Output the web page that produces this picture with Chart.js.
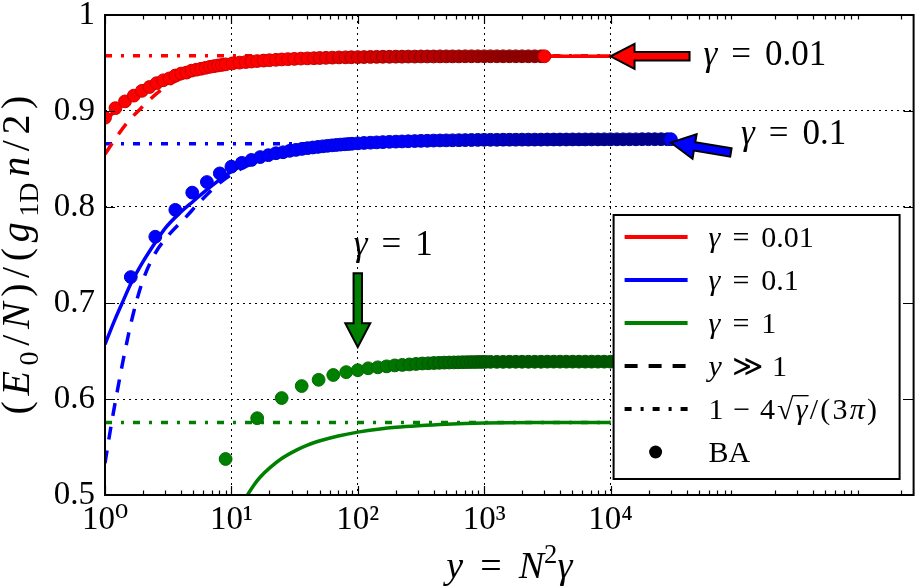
<!DOCTYPE html>
<html><head><meta charset="utf-8">
<script src="https://cdn.jsdelivr.net/npm/chart.js@4/dist/chart.umd.min.js"></script>
<style>
html,body{margin:0;padding:0;background:#fff;}
canvas{display:block;}
.fp{position:absolute;left:-5000px;top:0;font-size:33px;font-family:"Liberation Serif","Times New Roman",serif;}
</style>
</head><body>
<span class="fp" id="fp1">0123456789 γπ BA</span><span class="fp" id="fp2" style="font-style:italic">yNgnEγπ</span>
<canvas id="c" width="921" height="588"></canvas>
<script>
// ---------------- data ----------------
const xTickValues = [1, 10, 100, 1000, 10000];
const xTickLabels = ['10\u2070', '10\u00b9', '10\u00b2', '10\u00b3', '10\u2074'];
const yTickValues = [0.5, 0.6, 0.7, 0.8, 0.9, 1.0];
const yTickLabels = ['0.5', '0.6', '0.7', '0.8', '0.9', '1'];

const redBA_x = [1,1.21,1.44,1.69,1.96,2.25,2.56,2.89,3.24,3.61,4,4.41,4.84,5.29,5.76,6.25,6.76,7.29,7.84,8.41,9,
  10.2,11.6,13,14.4,16,18,20,22.5,25,28,31.5,35.5,40,45,50,56,63,71,80,89,
  100,112,126,141,158,178,200,224,251,282,316,355,398,447,501,562,631,708,794,891,
  1000,1122,1259,1413,1585,1778,1995,2239,2512,2818,3003];
const redBA_y = [0.893,0.903,0.910,0.916,0.921,0.925,0.929,0.932,0.934,0.937,0.939,0.940,0.942,0.943,0.944,0.945,0.946,0.9467,0.9474,0.948,0.9486,
  0.9496,0.9504,0.951,0.9515,0.952,0.9525,0.9529,0.9533,0.9537,0.954,0.9543,0.9546,0.9548,0.955,0.9552,0.9554,0.9556,0.9558,0.9559,0.956,
  0.9561,0.9562,0.9563,0.9564,0.9565,0.9565,0.9566,0.9566,0.9567,0.9567,0.9568,0.9568,0.9568,0.9569,0.9569,0.9569,0.9569,0.957,0.957,0.957,
  0.957,0.957,0.957,0.957,0.957,0.957,0.957,0.957,0.957,0.957,0.957];

const blueBA_x = [1.6,2.5,3.6,4.9,6.4,8.1,10,12.1,14.4,16.9,19.6,22.5,25.6,28.9,32.4,36.1,40,44.1,48.4,52.9,57.6,62.5,67.6,72.9,78.4,84.1,90,
  100,112,126,141,158,178,200,224,251,282,316,355,398,447,501,562,631,708,794,891,
  1000,1122,1259,1413,1585,1778,1995,2239,2512,2818,3162,3548,3981,4467,5012,5623,6310,7079,7943,8913,
  10000,11220,12589,14125,15849,17783,19953,22387,25119,28184,30030];
const blueBA_y = [0.727,0.769,0.797,0.815,0.826,0.835,0.842,0.846,0.849,0.852,0.854,0.856,0.857,0.8585,0.8595,0.8605,0.8613,0.862,0.8626,0.8632,0.8637,0.8642,0.8646,0.865,0.8653,0.8656,0.8659,
  0.8663,0.8667,0.867,0.8673,0.8676,0.8679,0.8681,0.8683,0.8685,0.8687,0.8689,0.869,0.8692,0.8693,0.8694,0.8695,0.8696,0.8697,0.8698,0.8699,
  0.87,0.87,0.87,0.8701,0.8701,0.8701,0.8702,0.8702,0.8702,0.8702,0.8703,0.8703,0.8703,0.8703,0.8704,0.8704,0.8704,0.8704,0.8704,0.8705,
  0.8705,0.8705,0.8705,0.8705,0.8705,0.8706,0.8706,0.8706,0.8706,0.8706,0.8706];

const greenBA_x = [9,16,25,36,49,64,81,100,121,144,169,196,225,256,289,324,361,400,441,484,529,576,625,676,729,784,841,900,961,1024,
  1122,1259,1413,1585,1778,1995,2239,2512,2818,3162,3548,3981,4467,5012,5623,6310,7079,7943,8913,10000,11220,12589];
const greenBA_y = [0.5375,0.580,0.601,0.6135,0.620,0.625,0.628,0.630,0.632,0.633,0.634,0.635,0.6355,0.636,0.6365,0.637,0.6372,0.6375,0.6377,0.6379,0.638,0.6381,0.6382,0.6383,0.6384,0.6385,0.6385,0.6386,0.6386,0.6387,
  0.6387,0.6387,0.6387,0.6388,0.6388,0.6388,0.6388,0.6388,0.6388,0.6389,0.6389,0.6389,0.6389,0.6389,0.6389,0.6389,0.6389,0.6389,0.6389,0.6389,0.6389,0.6389];

const redLine_x = [1,1.5,2,3,5,10,30,100,1000,10000];
const redLine_y = [0.890,0.911,0.921,0.932,0.942,0.9495,0.954,0.956,0.957,0.957];
const blueLine_x = [1,1.2,1.4,1.6,2,2.5,3,4,5,6,8,10,15,20,30,50,100,300,1000,10000];
const blueLine_y = [0.657,0.683,0.703,0.720,0.743,0.763,0.778,0.795,0.806,0.815,0.828,0.837,0.848,0.854,0.859,0.8625,0.8655,0.8675,0.8685,0.869];
const greenLine_x = [13,13.4,15,17,20,25,33,40,52,70,100,150,200,300,500,1000,3000,10000];
const greenLine_y = [0.497,0.5,0.510,0.519,0.528,0.538,0.547,0.552,0.557,0.5615,0.5655,0.5688,0.5705,0.5722,0.5738,0.575,0.5755,0.5756];

const redDash_x = [1,1.25,1.5,2,2.5,3,4,6,10,30,100,1000,10000];
const redDash_y = [0.855,0.874,0.888,0.905,0.917,0.925,0.934,0.943,0.950,0.955,0.9566,0.957,0.957];
const blueDash_x = [1,1.12,1.25,1.4,1.66,2,2.5,3.2,4.4,5.5,7.6,10,15,20,30,50,100,1000,10000];
const blueDash_y = [0.533,0.573,0.608,0.642,0.687,0.724,0.752,0.771,0.790,0.804,0.822,0.834,0.846,0.852,0.857,0.861,0.864,0.8657,0.8658];

const levelRange = [1, 10000];
const levelRed = [0.9576, 0.9576];
const levelBlue = [0.8658, 0.8658];
const levelGreen = [0.5756, 0.5756];

const arrowX = [10000, 30030, 100];
const arrowY = [0.957, 0.8672, 0.654];

// ---------------- helpers ----------------
const SERIF = '"Liberation Serif", "Times New Roman", Times, "DejaVu Serif", serif';
const RED = '#ff0000', BLUE = '#0000ff', GREEN = '#008000';
function pts(xs, ys) { return xs.map((x, i) => ({ x: x, y: ys[i] })); }
function hex2rgb(h) { return [1, 3, 5].map(i => parseInt(h.substr(i, 2), 16)); }
function mix(a, b, t) {
  const A = hex2rgb(a), B = hex2rgb(b);
  return 'rgb(' + A.map((v, i) => Math.round(v + (B[i] - v) * t)).join(',') + ')';
}
function shadeFn(base, dark, lo, hi, extra) {
  return function (ctx) {
    const r = ctx.raw;
    if (!r || ctx.dataIndex === ctx.dataset.data.length - 1) return extra ? mix(base, dark, extra) : base;
    let t = (Math.log10(r.x) - lo) / (hi - lo);
    t = Math.max(0, Math.min(1, t));
    return mix(base, dark, Math.min(1, t + (extra || 0)));
  };
}
function dots(xs, ys, base, dark, lo, hi) {
  return {
    data: pts(xs, ys), showLine: false, order: 0, clip: 0,
    pointRadius: 6.4, pointBorderWidth: 1,
    pointBackgroundColor: shadeFn(base, dark, lo, hi, 0),
    pointBorderColor: shadeFn(base, dark, lo, hi, 0.45),
    pointHoverRadius: 6.4
  };
}
function line(xs, ys, color, dash, order) {
  return {
    data: pts(xs, ys), showLine: true, order: order, clip: 0,
    borderColor: color, borderWidth: 3.5, borderDash: dash, borderCapStyle: 'butt',
    pointRadius: 0, pointHoverRadius: 0, cubicInterpolationMode: 'monotone', fill: false
  };
}

function drawRich(ctx, parts, x, yBase, size, align, track) {
  track = track || 0;
  const items = []; let w = 0;
  parts.forEach((p, k) => {
    if (p.gap !== undefined) { items.push({ gap: p.gap * size }); w += p.gap * size; return; }
    const s = (p.sub || p.sup) ? size * 0.7 : size;
    const font = (p.i ? 'italic ' : '') + s + 'px ' + SERIF;
    ctx.font = font;
    const m = ctx.measureText(p.t);
    const extra = k < parts.length - 1 ? track : 0;
    items.push({ p: p, font: font, w: m.width, asc: m.actualBoundingBoxAscent, extra: extra });
    w += m.width + extra;
  });
  let cx = align === 'center' ? x - w / 2 : (align === 'right' ? x - w : x);
  ctx.textAlign = 'left'; ctx.textBaseline = 'alphabetic'; ctx.fillStyle = '#000';
  let radTop = null;
  for (const it of items) {
    if (it.gap !== undefined) { cx += it.gap; continue; }
    ctx.font = it.font;
    const dy = it.p.sup ? -0.4 * size : (it.p.sub ? 0.22 * size : 0);
    ctx.fillText(it.p.t, cx, yBase + dy);
    if (it.p.t === '\u221a') radTop = yBase - it.asc;
    if (it.p.over && radTop !== null) {
      ctx.save(); ctx.strokeStyle = '#000'; ctx.lineWidth = size * 0.045;
      ctx.beginPath(); ctx.moveTo(cx - 3, radTop + ctx.lineWidth / 2); ctx.lineTo(cx + it.w + 1, radTop + ctx.lineWidth / 2); ctx.stroke();
      ctx.restore();
    }
    cx += it.w + it.extra;
  }
  return w;
}

function arrowPath(ctx, tip, tail, headLen, headHalf, shaftHalf) {
  const dx = tip.x - tail.x, dy = tip.y - tail.y, L = Math.hypot(dx, dy);
  const ux = dx / L, uy = dy / L, nx = -uy, ny = ux;
  const nk = { x: tip.x - ux * headLen, y: tip.y - uy * headLen };
  const P = [
    [tail.x + nx * shaftHalf, tail.y + ny * shaftHalf],
    [nk.x + nx * shaftHalf, nk.y + ny * shaftHalf],
    [nk.x + nx * headHalf, nk.y + ny * headHalf],
    [tip.x, tip.y],
    [nk.x - nx * headHalf, nk.y - ny * headHalf],
    [nk.x - nx * shaftHalf, nk.y - ny * shaftHalf],
    [tail.x - nx * shaftHalf, tail.y - ny * shaftHalf]
  ];
  ctx.beginPath(); ctx.moveTo(P[0][0], P[0][1]);
  for (let i = 1; i < P.length; i++) ctx.lineTo(P[i][0], P[i][1]);
  ctx.closePath();
}

const eq = (v) => [{ t: '\u03b3', i: true }, { gap: 0.4 }, { t: '=' }, { gap: 0.4 }, { t: v }];

const decor = {
  id: 'decor',
  afterDatasetsDraw(chart) {
    const ctx = chart.ctx, a = chart.chartArea, xs = chart.scales.x, ys = chart.scales.y;
    ctx.save();
    ctx.strokeStyle = '#000'; ctx.lineWidth = 1.2;
    ctx.beginPath();
    for (let k = 0; k <= 6; k++) {
      for (let m = 1; m <= 9; m++) {
        const v = m * Math.pow(10, k);
        if (v > xs.max) break;
        if (m === 1 && k > 4) continue;
        const px = Math.round(xs.getPixelForValue(v)) + 0.5;
        const len = m === 1 ? 9 : 4.5;
        ctx.moveTo(px, a.bottom); ctx.lineTo(px, a.bottom - len);
        ctx.moveTo(px, a.top); ctx.lineTo(px, a.top + len);
      }
    }
    yTickValues.forEach(v => {
      const py = Math.round(ys.getPixelForValue(v)) + 0.5;
      ctx.moveTo(a.left, py); ctx.lineTo(a.left + 10, py);
      ctx.moveTo(a.right, py); ctx.lineTo(a.right - 10, py);
    });
    ctx.stroke();
    ctx.lineWidth = 2;
    ctx.strokeRect(a.left, a.top, a.right - a.left, a.bottom - a.top);

    const tips = arrowX.map((v, i) => ({ x: xs.getPixelForValue(v), y: ys.getPixelForValue(arrowY[i]) }));
    const tails = [
      { x: tips[0].x + 79, y: tips[0].y },
      { x: tips[1].x + 60, y: tips[1].y + 10 },
      { x: tips[2].x, y: tips[2].y - 74 }
    ];
    const fills = [RED, BLUE, GREEN];
    ctx.lineJoin = 'miter'; ctx.lineWidth = 2; ctx.strokeStyle = '#000';
    for (let i = 0; i < 3; i++) {
      arrowPath(ctx, tips[i], tails[i], 24, 12.5, 4.2);
      ctx.fillStyle = fills[i]; ctx.fill(); ctx.stroke();
    }
    drawRich(ctx, eq('0.01'), tails[0].x + 14, tails[0].y + 9, 35, 'left');
    drawRich(ctx, eq('0.1'), tails[1].x + 10, tails[1].y - 8, 35, 'left');
    drawRich(ctx, eq('1'), tails[2].x - 4, tails[2].y - 18, 35, 'left');

    const W = 286, H = 264;
    const L = a.right - 14 - W, T = a.bottom - 16 - H;
    ctx.fillStyle = '#fff'; ctx.fillRect(L, T, W, H);
    ctx.lineWidth = 2; ctx.strokeStyle = '#000'; ctx.strokeRect(L, T, W, H);
    const entries = [
      { c: RED, dash: [], txt: eq('0.01'), tr: 0 },
      { c: BLUE, dash: [], txt: eq('0.1'), tr: 0 },
      { c: GREEN, dash: [], txt: eq('1'), tr: 0 },
      { c: '#000', dash: [13, 11], txt: [{ t: 'y', i: true }, { gap: 0.32 }, { t: '\u226b' }, { gap: 0.32 }, { t: '1' }], tr: 0 },
      { c: '#000', dash: [7, 9, 3, 9], txt: [{ t: '1' }, { gap: 0.25 }, { t: '\u2212' }, { gap: 0.25 }, { t: '4' }, { t: '\u221a' }, { t: '\u03b3', i: true, over: true }, { t: '/' }, { t: '(' }, { t: '3' }, { t: '\u03c0', i: true }, { t: ')' }], tr: 2.2 },
      { dot: true, txt: [{ t: 'BA' }], tr: 0 }
    ];
    entries.forEach((e, k) => {
      const yy = T + 22 + k * 43;
      if (e.dot) {
        ctx.fillStyle = '#000'; ctx.beginPath(); ctx.arc(L + 42, yy, 6.5, 0, Math.PI * 2); ctx.fill();
      } else {
        ctx.save(); ctx.strokeStyle = e.c; ctx.lineWidth = 4; ctx.lineCap = 'butt'; ctx.setLineDash(e.dash);
        ctx.beginPath(); ctx.moveTo(L + 11, yy); ctx.lineTo(L + 74, yy); ctx.stroke(); ctx.restore();
      }
      drawRich(ctx, e.txt, L + 95, yy + 10, 30, 'left', e.tr);
    });
    ctx.restore();
  },
  afterDraw(chart) {
    const ctx = chart.ctx, a = chart.chartArea;
    ctx.save();
    drawRich(ctx, [{ t: 'y', i: true }, { gap: 0.45 }, { t: '=' }, { gap: 0.45 }, { t: 'N', i: true }, { t: '2', sup: true }, { t: '\u03b3', i: true }],
      (a.left + a.right) / 2, 578, 38, 'center');
    ctx.translate(29, (a.top + a.bottom) / 2);
    ctx.rotate(-Math.PI / 2);
    drawRich(ctx, [{ t: '(' }, { t: 'E', i: true }, { t: '0', sub: true }, { t: '/' }, { t: 'N', i: true }, { t: ')' }, { t: '/' }, { t: '(' },
      { t: 'g', i: true }, { t: '1D', sub: true }, { t: 'n', i: true }, { t: '/' }, { t: '2' }, { t: ')' }], 0, 0, 40, 'center', 5.6);
    ctx.restore();
  }
};

document.getElementById('fp1').offsetWidth; document.getElementById('fp2').offsetWidth;

const chart = new Chart(document.getElementById('c'), {
  type: 'scatter',
  data: {
    datasets: [
      dots(redBA_x, redBA_y, RED, '#8b0000', 1.5, 3.2),
      dots(blueBA_x, blueBA_y, BLUE, '#00008b', 2.4, 3.9),
      dots(greenBA_x, greenBA_y, GREEN, '#005500', 2.0, 3.2),
      line(redLine_x, redLine_y, RED, [], 1),
      line(blueLine_x, blueLine_y, BLUE, [], 1),
      line(greenLine_x, greenLine_y, GREEN, [], 1),
      line(redDash_x, redDash_y, RED, [13, 11], 2),
      line(blueDash_x, blueDash_y, BLUE, [13, 11], 2),
      line(levelRange, levelRed, RED, [7, 9, 3, 9], 3),
      line(levelRange, levelBlue, BLUE, [7, 9, 3, 9], 3),
      line(levelRange, levelGreen, GREEN, [7, 9, 3, 9], 3)
    ]
  },
  options: {
    responsive: false, animation: false, devicePixelRatio: 1,
    layout: { padding: { left: 0, right: 3, top: 15, bottom: 0 } },
    plugins: { legend: { display: false }, tooltip: { enabled: false } },
    events: [],
    scales: {
      x: {
        type: 'logarithmic', min: 1, max: 2.5e6,
        afterBuildTicks: s => { s.ticks = xTickValues.map(v => ({ value: v })); },
        afterFit: s => { s.height = 93; s.paddingLeft = 0; s.paddingRight = 0; },
        ticks: {
          autoSkip: false, maxRotation: 0, minRotation: 0, padding: 6, color: '#000',
          font: { family: SERIF, size: 33 },
          callback: (v, i) => xTickLabels[i]
        },
        grid: { color: c => (c.tick && c.tick.value > 1) ? '#000' : 'rgba(0,0,0,0)', lineWidth: 1, drawTicks: false },
        border: { display: false, dash: [2, 4] }
      },
      y: {
        type: 'linear', min: 0.5, max: 1,
        afterBuildTicks: s => { s.ticks = yTickValues.map(v => ({ value: v })); },
        afterFit: s => { s.width = 105; s.paddingTop = 0; s.paddingBottom = 0; },
        ticks: { padding: 10, color: '#000', font: { family: SERIF, size: 33 }, callback: (v, i) => yTickLabels[i] },
        grid: { color: c => (c.tick && c.tick.value > 0.55 && c.tick.value < 0.95) ? '#000' : 'rgba(0,0,0,0)', lineWidth: 1, drawTicks: false },
        border: { display: false, dash: [2, 4] }
      }
    }
  },
  plugins: [decor]
});
const redraw = () => { try { chart.update('none'); } catch (e) {} };
if (document.fonts) {
  document.fonts.load('33px "Liberation Serif"').then(redraw, () => {});
  document.fonts.load('italic 33px "Liberation Serif"').then(redraw, () => {});
  document.fonts.ready.then(redraw);
}
window.addEventListener('load', redraw);
</script>
</body></html>
